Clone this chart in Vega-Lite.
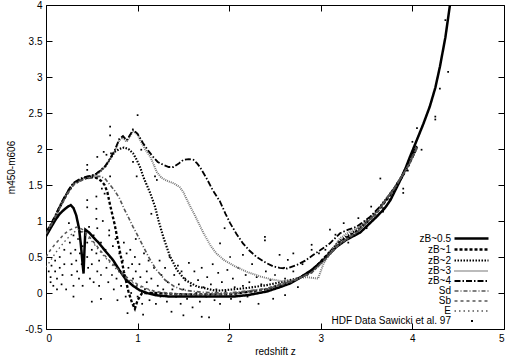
{
"$schema":"https://vega.github.io/schema/vega-lite/v6.json",
"width":458,"height":324,
"autosize":{"type":"none"},
"padding":{"left":46,"top":5,"right":2,"bottom":30},
"background":"white",
"config":{"view":{"stroke":"black","strokeWidth":1},
 "font":"Liberation Sans",
 "axis":{"grid":false,"domain":false,"tickColor":"black","tickSize":-6,"tickWidth":1,"labelFont":"Liberation Sans","labelFontSize":10,"labelColor":"black","titleFont":"Liberation Sans","titleFontSize":10,"titleFontWeight":"normal","titleColor":"black"},
 "legend":{"labelFont":"Liberation Sans","labelFontSize":10,"labelColor":"black"}},
"datasets":{
"curves":[
{"s":"zB~0.5","z":0,"c":0.79},{"s":"zB~0.5","z":0.05,"c":0.9},{"s":"zB~0.5","z":0.1,"c":1.01},{"s":"zB~0.5","z":0.15,"c":1.1},{"s":"zB~0.5","z":0.2,"c":1.16},{"s":"zB~0.5","z":0.24,"c":1.2},{"s":"zB~0.5","z":0.27,"c":1.22},{"s":"zB~0.5","z":0.3,"c":1.18},{"s":"zB~0.5","z":0.33,"c":1.08},{"s":"zB~0.5","z":0.36,"c":0.9},{"s":"zB~0.5","z":0.38,"c":0.68},{"s":"zB~0.5","z":0.4,"c":0.4},{"s":"zB~0.5","z":0.41,"c":0.27},{"s":"zB~0.5","z":0.42,"c":0.6},{"s":"zB~0.5","z":0.43,"c":0.88},{"s":"zB~0.5","z":0.47,"c":0.84},{"s":"zB~0.5","z":0.52,"c":0.77},{"s":"zB~0.5","z":0.58,"c":0.69},{"s":"zB~0.5","z":0.65,"c":0.58},{"s":"zB~0.5","z":0.73,"c":0.46},{"s":"zB~0.5","z":0.8,"c":0.32},{"s":"zB~0.5","z":0.87,"c":0.19},{"s":"zB~0.5","z":0.95,"c":0.1},{"s":"zB~0.5","z":1.02,"c":0.04},{"s":"zB~0.5","z":1.1,"c":0.0},{"s":"zB~0.5","z":1.2,"c":-0.03},{"s":"zB~0.5","z":1.35,"c":-0.05},{"s":"zB~0.5","z":1.5,"c":-0.05},{"s":"zB~0.5","z":1.8,"c":-0.05},{"s":"zB~0.5","z":2.04,"c":-0.05},{"s":"zB~0.5","z":2.2,"c":-0.03},{"s":"zB~0.5","z":2.41,"c":0.02},{"s":"zB~0.5","z":2.55,"c":0.08},{"s":"zB~0.5","z":2.66,"c":0.13},{"s":"zB~0.5","z":2.77,"c":0.21},{"s":"zB~0.5","z":2.9,"c":0.32},{"s":"zB~0.5","z":3.03,"c":0.46},{"s":"zB~0.5","z":3.17,"c":0.64},{"s":"zB~0.5","z":3.28,"c":0.74},{"s":"zB~0.5","z":3.43,"c":0.84},{"s":"zB~0.5","z":3.52,"c":0.95},{"s":"zB~0.5","z":3.61,"c":1.06},{"s":"zB~0.5","z":3.7,"c":1.18},{"s":"zB~0.5","z":3.76,"c":1.29},{"s":"zB~0.5","z":3.83,"c":1.47},{"s":"zB~0.5","z":3.9,"c":1.65},{"s":"zB~0.5","z":3.97,"c":1.88},{"s":"zB~0.5","z":4.05,"c":2.13},{"s":"zB~0.5","z":4.12,"c":2.35},{"s":"zB~0.5","z":4.19,"c":2.59},{"s":"zB~0.5","z":4.25,"c":2.85},{"s":"zB~0.5","z":4.3,"c":3.14},{"s":"zB~0.5","z":4.36,"c":3.55},{"s":"zB~0.5","z":4.41,"c":4.0},
{"s":"zB~1","z":0,"c":0.82},{"s":"zB~1","z":0.05,"c":0.93},{"s":"zB~1","z":0.1,"c":1.05},{"s":"zB~1","z":0.15,"c":1.19},{"s":"zB~1","z":0.2,"c":1.31},{"s":"zB~1","z":0.25,"c":1.42},{"s":"zB~1","z":0.3,"c":1.51},{"s":"zB~1","z":0.35,"c":1.55},{"s":"zB~1","z":0.4,"c":1.58},{"s":"zB~1","z":0.45,"c":1.6},{"s":"zB~1","z":0.5,"c":1.61},{"s":"zB~1","z":0.55,"c":1.6},{"s":"zB~1","z":0.6,"c":1.56},{"s":"zB~1","z":0.64,"c":1.5},{"s":"zB~1","z":0.67,"c":1.4},{"s":"zB~1","z":0.7,"c":1.22},{"s":"zB~1","z":0.75,"c":0.95},{"s":"zB~1","z":0.8,"c":0.62},{"s":"zB~1","z":0.85,"c":0.3},{"s":"zB~1","z":0.9,"c":0.02},{"s":"zB~1","z":0.94,"c":-0.14},{"s":"zB~1","z":0.97,"c":-0.22},{"s":"zB~1","z":1.0,"c":-0.1},{"s":"zB~1","z":1.05,"c":0.0},{"s":"zB~1","z":1.2,"c":0.0},{"s":"zB~1","z":1.5,"c":-0.02},{"s":"zB~1","z":2.0,"c":-0.02},{"s":"zB~1","z":2.4,"c":0.05},{"s":"zB~1","z":2.7,"c":0.17},{"s":"zB~1","z":2.9,"c":0.3},{"s":"zB~1","z":3.03,"c":0.48},{"s":"zB~1","z":3.2,"c":0.7},{"s":"zB~1","z":3.4,"c":0.86},{"s":"zB~1","z":3.6,"c":1.1},{"s":"zB~1","z":3.8,"c":1.43},{"s":"zB~1","z":3.95,"c":1.75},{"s":"zB~1","z":4.05,"c":2.03},
{"s":"zB~2","z":0,"c":0.83},{"s":"zB~2","z":0.05,"c":0.94},{"s":"zB~2","z":0.1,"c":1.06},{"s":"zB~2","z":0.15,"c":1.2},{"s":"zB~2","z":0.2,"c":1.32},{"s":"zB~2","z":0.25,"c":1.43},{"s":"zB~2","z":0.3,"c":1.52},{"s":"zB~2","z":0.35,"c":1.56},{"s":"zB~2","z":0.4,"c":1.59},{"s":"zB~2","z":0.45,"c":1.61},{"s":"zB~2","z":0.5,"c":1.62},{"s":"zB~2","z":0.55,"c":1.65},{"s":"zB~2","z":0.6,"c":1.7},{"s":"zB~2","z":0.65,"c":1.76},{"s":"zB~2","z":0.7,"c":1.86},{"s":"zB~2","z":0.75,"c":1.96},{"s":"zB~2","z":0.8,"c":2.0},{"s":"zB~2","z":0.85,"c":2.02},{"s":"zB~2","z":0.9,"c":2.0},{"s":"zB~2","z":0.95,"c":1.94},{"s":"zB~2","z":0.99,"c":1.85},{"s":"zB~2","z":1.03,"c":1.74},{"s":"zB~2","z":1.06,"c":1.62},{"s":"zB~2","z":1.1,"c":1.5},{"s":"zB~2","z":1.14,"c":1.38},{"s":"zB~2","z":1.19,"c":1.2},{"s":"zB~2","z":1.23,"c":1.0},{"s":"zB~2","z":1.28,"c":0.78},{"s":"zB~2","z":1.35,"c":0.52},{"s":"zB~2","z":1.43,"c":0.32},{"s":"zB~2","z":1.52,"c":0.18},{"s":"zB~2","z":1.65,"c":0.09},{"s":"zB~2","z":1.86,"c":0.03},{"s":"zB~2","z":2.04,"c":0.05},{"s":"zB~2","z":2.2,"c":0.07},{"s":"zB~2","z":2.41,"c":0.11},{"s":"zB~2","z":2.6,"c":0.16},{"s":"zB~2","z":2.77,"c":0.21},{"s":"zB~2","z":2.9,"c":0.3},{"s":"zB~2","z":3.03,"c":0.47},{"s":"zB~2","z":3.2,"c":0.72},{"s":"zB~2","z":3.4,"c":0.88},{"s":"zB~2","z":3.6,"c":1.12},{"s":"zB~2","z":3.8,"c":1.45},{"s":"zB~2","z":3.95,"c":1.76},{"s":"zB~2","z":4.05,"c":2.02},
{"s":"zB~3","z":0,"c":0.83},{"s":"zB~3","z":0.05,"c":0.94},{"s":"zB~3","z":0.1,"c":1.06},{"s":"zB~3","z":0.15,"c":1.2},{"s":"zB~3","z":0.2,"c":1.32},{"s":"zB~3","z":0.25,"c":1.43},{"s":"zB~3","z":0.3,"c":1.52},{"s":"zB~3","z":0.35,"c":1.56},{"s":"zB~3","z":0.4,"c":1.59},{"s":"zB~3","z":0.45,"c":1.61},{"s":"zB~3","z":0.5,"c":1.62},{"s":"zB~3","z":0.55,"c":1.65},{"s":"zB~3","z":0.6,"c":1.7},{"s":"zB~3","z":0.65,"c":1.76},{"s":"zB~3","z":0.7,"c":1.86},{"s":"zB~3","z":0.75,"c":1.97},{"s":"zB~3","z":0.8,"c":2.12},{"s":"zB~3","z":0.84,"c":2.16},{"s":"zB~3","z":0.88,"c":2.1},{"s":"zB~3","z":0.92,"c":2.18},{"s":"zB~3","z":0.95,"c":2.25},{"s":"zB~3","z":1.0,"c":2.2},{"s":"zB~3","z":1.03,"c":2.12},{"s":"zB~3","z":1.08,"c":2.0},{"s":"zB~3","z":1.14,"c":1.89},{"s":"zB~3","z":1.21,"c":1.68},{"s":"zB~3","z":1.26,"c":1.6},{"s":"zB~3","z":1.32,"c":1.56},{"s":"zB~3","z":1.4,"c":1.52},{"s":"zB~3","z":1.46,"c":1.47},{"s":"zB~3","z":1.5,"c":1.4},{"s":"zB~3","z":1.54,"c":1.29},{"s":"zB~3","z":1.6,"c":1.14},{"s":"zB~3","z":1.64,"c":1.04},{"s":"zB~3","z":1.72,"c":0.83},{"s":"zB~3","z":1.8,"c":0.65},{"s":"zB~3","z":1.86,"c":0.55},{"s":"zB~3","z":1.95,"c":0.45},{"s":"zB~3","z":2.08,"c":0.36},{"s":"zB~3","z":2.2,"c":0.29},{"s":"zB~3","z":2.34,"c":0.23},{"s":"zB~3","z":2.46,"c":0.19},{"s":"zB~3","z":2.59,"c":0.16},{"s":"zB~3","z":2.7,"c":0.18},{"s":"zB~3","z":2.77,"c":0.21},{"s":"zB~3","z":2.85,"c":0.22},{"s":"zB~3","z":2.97,"c":0.2},{"s":"zB~3","z":3.03,"c":0.41},{"s":"zB~3","z":3.1,"c":0.55},{"s":"zB~3","z":3.21,"c":0.76},{"s":"zB~3","z":3.3,"c":0.84},{"s":"zB~3","z":3.4,"c":0.9},{"s":"zB~3","z":3.6,"c":1.12},{"s":"zB~3","z":3.8,"c":1.45},{"s":"zB~3","z":3.95,"c":1.76},{"s":"zB~3","z":4.05,"c":2.02},
{"s":"zB~4","z":0,"c":0.84},{"s":"zB~4","z":0.05,"c":0.95},{"s":"zB~4","z":0.1,"c":1.07},{"s":"zB~4","z":0.15,"c":1.21},{"s":"zB~4","z":0.2,"c":1.33},{"s":"zB~4","z":0.25,"c":1.44},{"s":"zB~4","z":0.3,"c":1.53},{"s":"zB~4","z":0.35,"c":1.57},{"s":"zB~4","z":0.4,"c":1.6},{"s":"zB~4","z":0.45,"c":1.62},{"s":"zB~4","z":0.5,"c":1.63},{"s":"zB~4","z":0.55,"c":1.66},{"s":"zB~4","z":0.6,"c":1.71},{"s":"zB~4","z":0.65,"c":1.77},{"s":"zB~4","z":0.7,"c":1.87},{"s":"zB~4","z":0.75,"c":1.98},{"s":"zB~4","z":0.8,"c":2.14},{"s":"zB~4","z":0.84,"c":2.18},{"s":"zB~4","z":0.88,"c":2.12},{"s":"zB~4","z":0.92,"c":2.2},{"s":"zB~4","z":0.95,"c":2.27},{"s":"zB~4","z":1.0,"c":2.21},{"s":"zB~4","z":1.06,"c":2.08},{"s":"zB~4","z":1.12,"c":1.97},{"s":"zB~4","z":1.17,"c":1.89},{"s":"zB~4","z":1.22,"c":1.82},{"s":"zB~4","z":1.28,"c":1.78},{"s":"zB~4","z":1.34,"c":1.75},{"s":"zB~4","z":1.39,"c":1.75},{"s":"zB~4","z":1.45,"c":1.8},{"s":"zB~4","z":1.5,"c":1.85},{"s":"zB~4","z":1.56,"c":1.86},{"s":"zB~4","z":1.61,"c":1.85},{"s":"zB~4","z":1.65,"c":1.8},{"s":"zB~4","z":1.68,"c":1.75},{"s":"zB~4","z":1.75,"c":1.6},{"s":"zB~4","z":1.82,"c":1.43},{"s":"zB~4","z":1.9,"c":1.27},{"s":"zB~4","z":1.96,"c":1.1},{"s":"zB~4","z":2.01,"c":0.97},{"s":"zB~4","z":2.08,"c":0.82},{"s":"zB~4","z":2.15,"c":0.69},{"s":"zB~4","z":2.22,"c":0.59},{"s":"zB~4","z":2.3,"c":0.5},{"s":"zB~4","z":2.4,"c":0.42},{"s":"zB~4","z":2.48,"c":0.37},{"s":"zB~4","z":2.55,"c":0.35},{"s":"zB~4","z":2.63,"c":0.34},{"s":"zB~4","z":2.74,"c":0.39},{"s":"zB~4","z":2.83,"c":0.45},{"s":"zB~4","z":2.92,"c":0.53},{"s":"zB~4","z":3.0,"c":0.6},{"s":"zB~4","z":3.1,"c":0.69},{"s":"zB~4","z":3.21,"c":0.83},{"s":"zB~4","z":3.3,"c":0.88},{"s":"zB~4","z":3.39,"c":0.92},{"s":"zB~4","z":3.54,"c":1.06},{"s":"zB~4","z":3.7,"c":1.27},{"s":"zB~4","z":3.86,"c":1.57},{"s":"zB~4","z":3.95,"c":1.8},{"s":"zB~4","z":4.05,"c":2.05},
{"s":"Sd","z":0,"c":0.82},{"s":"Sd","z":0.05,"c":0.93},{"s":"Sd","z":0.1,"c":1.05},{"s":"Sd","z":0.15,"c":1.18},{"s":"Sd","z":0.2,"c":1.3},{"s":"Sd","z":0.25,"c":1.41},{"s":"Sd","z":0.3,"c":1.5},{"s":"Sd","z":0.35,"c":1.54},{"s":"Sd","z":0.4,"c":1.57},{"s":"Sd","z":0.45,"c":1.59},{"s":"Sd","z":0.5,"c":1.6},{"s":"Sd","z":0.55,"c":1.62},{"s":"Sd","z":0.6,"c":1.62},{"s":"Sd","z":0.65,"c":1.58},{"s":"Sd","z":0.7,"c":1.5},{"s":"Sd","z":0.75,"c":1.42},{"s":"Sd","z":0.8,"c":1.32},{"s":"Sd","z":0.86,"c":1.15},{"s":"Sd","z":0.9,"c":1.05},{"s":"Sd","z":0.95,"c":0.92},{"s":"Sd","z":1.0,"c":0.8},{"s":"Sd","z":1.06,"c":0.65},{"s":"Sd","z":1.12,"c":0.5},{"s":"Sd","z":1.2,"c":0.33},{"s":"Sd","z":1.3,"c":0.18},{"s":"Sd","z":1.4,"c":0.09},{"s":"Sd","z":1.5,"c":0.04},{"s":"Sd","z":1.7,"c":0.01},{"s":"Sd","z":2.0,"c":0.0},{"s":"Sd","z":2.4,"c":0.06},{"s":"Sd","z":2.7,"c":0.17},{"s":"Sd","z":2.9,"c":0.28},{"s":"Sd","z":3.05,"c":0.47},{"s":"Sd","z":3.2,"c":0.68},{"s":"Sd","z":3.4,"c":0.85},{"s":"Sd","z":3.6,"c":1.1},{"s":"Sd","z":3.8,"c":1.45},{"s":"Sd","z":3.95,"c":1.76},{"s":"Sd","z":4.05,"c":2.02},
{"s":"Sb","z":0,"c":0.5},{"s":"Sb","z":0.05,"c":0.6},{"s":"Sb","z":0.1,"c":0.68},{"s":"Sb","z":0.15,"c":0.75},{"s":"Sb","z":0.2,"c":0.82},{"s":"Sb","z":0.25,"c":0.87},{"s":"Sb","z":0.3,"c":0.9},{"s":"Sb","z":0.35,"c":0.92},{"s":"Sb","z":0.4,"c":0.88},{"s":"Sb","z":0.5,"c":0.74},{"s":"Sb","z":0.6,"c":0.58},{"s":"Sb","z":0.7,"c":0.44},{"s":"Sb","z":0.8,"c":0.31},{"s":"Sb","z":0.9,"c":0.2},{"s":"Sb","z":1.0,"c":0.12},{"s":"Sb","z":1.1,"c":0.06},{"s":"Sb","z":1.2,"c":0.02},{"s":"Sb","z":1.4,"c":-0.01},{"s":"Sb","z":1.7,"c":-0.02},{"s":"Sb","z":2.0,"c":-0.01},{"s":"Sb","z":2.4,"c":0.05},{"s":"Sb","z":2.7,"c":0.17},{"s":"Sb","z":2.9,"c":0.29},{"s":"Sb","z":3.05,"c":0.47},{"s":"Sb","z":3.2,"c":0.68},{"s":"Sb","z":3.4,"c":0.85},{"s":"Sb","z":3.6,"c":1.1},{"s":"Sb","z":3.8,"c":1.45},{"s":"Sb","z":3.95,"c":1.76},{"s":"Sb","z":4.05,"c":2.02},
{"s":"E","z":0,"c":0.36},{"s":"E","z":0.05,"c":0.45},{"s":"E","z":0.1,"c":0.55},{"s":"E","z":0.15,"c":0.63},{"s":"E","z":0.2,"c":0.71},{"s":"E","z":0.25,"c":0.78},{"s":"E","z":0.3,"c":0.84},{"s":"E","z":0.35,"c":0.88},{"s":"E","z":0.4,"c":0.85},{"s":"E","z":0.5,"c":0.72},{"s":"E","z":0.6,"c":0.56},{"s":"E","z":0.7,"c":0.42},{"s":"E","z":0.8,"c":0.29},{"s":"E","z":0.9,"c":0.18},{"s":"E","z":1.0,"c":0.1},{"s":"E","z":1.1,"c":0.05},{"s":"E","z":1.2,"c":0.01},{"s":"E","z":1.4,"c":-0.02},{"s":"E","z":1.7,"c":-0.03},{"s":"E","z":2.0,"c":-0.02},{"s":"E","z":2.4,"c":0.04},{"s":"E","z":2.7,"c":0.16},{"s":"E","z":2.9,"c":0.28},{"s":"E","z":3.05,"c":0.46},{"s":"E","z":3.2,"c":0.67},{"s":"E","z":3.4,"c":0.84},{"s":"E","z":3.6,"c":1.09},{"s":"E","z":3.8,"c":1.44},{"s":"E","z":3.95,"c":1.75},{"s":"E","z":4.05,"c":2.0}
],
"hdf":[
{"z":0.05,"c":0.15},{"z":0.05,"c":0.22},{"z":0.08,"c":0.1},{"z":0.1,"c":0.3},{"z":0.1,"c":0.45},{"z":0.12,"c":0.2},{"z":0.12,"c":0.05},{"z":0.15,"c":0.35},{"z":0.15,"c":0.5},{"z":0.17,"c":0.12},{"z":0.18,"c":0.25},{"z":0.2,"c":0.4},{"z":0.2,"c":0.6},{"z":0.22,"c":0.05},{"z":0.06,"c":0.38},{"z":0.03,"c":0.3},
{"z":0.25,"c":0.97},{"z":0.26,"c":0.7},{"z":0.27,"c":0.55},{"z":0.28,"c":0.4},{"z":0.28,"c":0.25},{"z":0.3,"c":0.8},{"z":0.3,"c":0.1},{"z":0.32,"c":0.6},{"z":0.33,"c":0.45},{"z":0.34,"c":0.3},{"z":0.35,"c":0.75},{"z":0.36,"c":0.2},{"z":0.37,"c":0.55},{"z":0.38,"c":0.85},{"z":0.39,"c":0.4},{"z":0.4,"c":0.65},{"z":0.4,"c":0.1},{"z":0.3,"c":-0.05},{"z":0.35,"c":0.95},
{"z":0.45,"c":1.78},{"z":0.45,"c":1.71},{"z":0.45,"c":1.29},{"z":0.45,"c":1.19},{"z":0.47,"c":0.92},{"z":0.45,"c":0.7},{"z":0.45,"c":0.5},{"z":0.46,"c":0.35},{"z":0.48,"c":0.2},{"z":0.5,"c":0.6},{"z":0.5,"c":0.4},{"z":0.52,"c":0.8},{"z":0.52,"c":0.15},{"z":0.55,"c":1.34},{"z":0.55,"c":1.17},{"z":0.55,"c":1.03},{"z":0.56,"c":0.9},{"z":0.55,"c":0.55},{"z":0.56,"c":0.3},{"z":0.58,"c":0.45},{"z":0.58,"c":0.1},{"z":0.6,"c":0.7},{"z":0.6,"c":0.25},{"z":0.56,"c":1.89},{"z":0.6,"c":-0.08},{"z":0.5,"c":-0.12},
{"z":0.61,"c":1.45},{"z":0.62,"c":1.0},{"z":0.63,"c":1.96},{"z":0.64,"c":1.38},{"z":0.66,"c":1.92},{"z":0.69,"c":0.87},{"z":0.69,"c":0.8},{"z":0.7,"c":2.31},{"z":0.7,"c":2.19},{"z":0.7,"c":1.62},{"z":0.71,"c":1.94},{"z":0.65,"c":0.6},{"z":0.66,"c":0.35},{"z":0.68,"c":0.15},{"z":0.7,"c":0.5},{"z":0.72,"c":0.25},{"z":0.73,"c":0.65},{"z":0.74,"c":0.05},{"z":0.75,"c":0.4},{"z":0.76,"c":0.75},{"z":0.77,"c":0.2},{"z":0.78,"c":-0.1},{"z":0.8,"c":0.55},{"z":0.8,"c":0.3},
{"z":0.82,"c":0.1},{"z":0.84,"c":0.45},{"z":0.85,"c":0.7},{"z":0.86,"c":0.25},{"z":0.87,"c":-0.05},{"z":0.88,"c":0.55},{"z":0.89,"c":-0.28},{"z":0.9,"c":0.35},{"z":0.9,"c":0.15},{"z":0.92,"c":0.6},{"z":0.93,"c":0.0},{"z":0.94,"c":0.4},{"z":0.95,"c":1.82},{"z":0.95,"c":0.2},{"z":0.96,"c":-0.15},{"z":0.97,"c":0.5},{"z":0.98,"c":0.3},{"z":0.99,"c":1.62},{"z":0.99,"c":0.1},{"z":1.0,"c":2.47},{"z":1.0,"c":-0.05},{"z":0.98,"c":0.75},
{"z":1.02,"c":0.4},{"z":1.03,"c":0.22},{"z":1.04,"c":1.99},{"z":1.05,"c":-0.15},{"z":1.06,"c":-0.3},{"z":1.07,"c":0.55},{"z":1.08,"c":0.05},{"z":1.1,"c":0.3},{"z":1.1,"c":0.15},{"z":1.12,"c":0.45},{"z":1.13,"c":-0.1},{"z":1.15,"c":1.1},{"z":1.15,"c":0.2},{"z":1.16,"c":0.0},{"z":1.18,"c":0.35},{"z":1.19,"c":1.62},{"z":1.2,"c":-0.15},{"z":1.21,"c":1.57},{"z":1.22,"c":0.1},{"z":1.24,"c":0.45},{"z":1.25,"c":-0.05},{"z":1.26,"c":0.25},{"z":1.28,"c":0.05},{"z":1.3,"c":0.35},
{"z":1.32,"c":-0.12},{"z":1.33,"c":0.15},{"z":1.35,"c":0.5},{"z":1.37,"c":-0.26},{"z":1.38,"c":0.05},{"z":1.4,"c":0.25},{"z":1.42,"c":-0.05},{"z":1.44,"c":0.38},{"z":1.45,"c":0.12},{"z":1.47,"c":-0.15},{"z":1.48,"c":0.3},{"z":1.5,"c":-0.31},{"z":1.5,"c":0.05},{"z":1.52,"c":0.2},{"z":1.54,"c":-0.08},{"z":1.56,"c":0.42},{"z":1.58,"c":0.1},{"z":1.6,"c":-0.2},
{"z":1.62,"c":0.3},{"z":1.64,"c":0.0},{"z":1.66,"c":0.18},{"z":1.68,"c":-0.12},{"z":1.7,"c":-0.33},{"z":1.7,"c":0.35},{"z":1.72,"c":0.08},{"z":1.75,"c":-0.05},{"z":1.76,"c":0.22},{"z":1.78,"c":-0.34},{"z":1.8,"c":0.12},{"z":1.82,"c":0.4},{"z":1.84,"c":-0.1},{"z":1.86,"c":0.05},{"z":1.88,"c":0.28},{"z":1.9,"c":0.69},{"z":1.9,"c":-0.15},{"z":1.92,"c":0.15},{"z":1.95,"c":0.9},{"z":1.96,"c":0.02},{"z":1.98,"c":0.32},
{"z":2.01,"c":0.5},{"z":2.02,"c":-0.08},{"z":2.04,"c":0.2},{"z":2.06,"c":0.08},{"z":2.1,"c":0.35},{"z":2.12,"c":-0.12},{"z":2.15,"c":0.53},{"z":2.15,"c":0.1},{"z":2.18,"c":0.25},{"z":2.2,"c":-0.05},{"z":2.22,"c":0.15},{"z":2.25,"c":0.4},{"z":2.28,"c":0.02},{"z":2.3,"c":0.22},{"z":2.32,"c":-0.15},{"z":2.35,"c":0.12},{"z":2.39,"c":0.78},{"z":2.39,"c":0.73},{"z":2.4,"c":0.3},{"z":2.42,"c":0.05},{"z":2.45,"c":0.18},{"z":2.48,"c":-0.08},
{"z":2.5,"c":0.25},{"z":2.55,"c":0.53},{"z":2.56,"c":0.12},{"z":2.6,"c":0.35},{"z":2.61,"c":0.2},{"z":2.61,"c":-0.03},{"z":2.64,"c":0.46},{"z":2.68,"c":0.15},{"z":2.7,"c":0.55},{"z":2.7,"c":0.3},{"z":2.75,"c":0.08},{"z":2.8,"c":0.4},{"z":2.85,"c":0.25},{"z":2.9,"c":0.67},{"z":2.9,"c":0.6},{"z":2.95,"c":0.35},{"z":2.98,"c":0.55},
{"z":3.05,"c":0.6},{"z":3.1,"c":0.88},{"z":3.16,"c":0.81},{"z":3.25,"c":0.97},{"z":3.3,"c":0.7},{"z":3.41,"c":1.04},{"z":3.5,"c":0.9},{"z":3.55,"c":1.2},{"z":3.65,"c":1.59},{"z":3.68,"c":1.18},{"z":3.68,"c":1.13},{"z":3.75,"c":1.3},{"z":3.9,"c":1.45},{"z":3.9,"c":1.39},{"z":3.95,"c":1.7},{"z":4.0,"c":2.1},{"z":4.05,"c":2.29},{"z":4.1,"c":1.99},{"z":4.25,"c":2.45},{"z":4.25,"c":2.41},{"z":4.3,"c":2.84},{"z":4.39,"c":3.07},{"z":4.36,"c":3.79}
]},
"layer":[
{"data":{"name":"hdf"},
 "mark":{"type":"point","filled":true,"size":3,"opacity":1,"color":"black","clip":true},
 "encoding":{
  "x":{"field":"z","type":"quantitative","scale":{"domain":[0,5],"nice":false,"zero":false},
    "axis":{"orient":"bottom","values":[0,1,2,3,4,5],"title":"redshift z","labelPadding":10,"titlePadding":3}},
  "y":{"field":"c","type":"quantitative","scale":{"domain":[-0.5,4],"nice":false,"zero":false},
    "axis":{"orient":"left","values":[-0.5,0,0.5,1,1.5,2,2.5,3,3.5,4],"title":"m450-m606","labelPadding":10,"titlePadding":8,
      "labelExpr":"datum.value < 0 ? '-' + format(-datum.value, '~g') : format(datum.value, '~g')"}},
  "shape":{"datum":"HDF Data Sawicki et al. 97","type":"nominal","scale":{"range":["square"]},
    "legend":{"orient":"none","legendX":421,"legendY":311,"title":null,"labelAlign":"right","labelOffset":-26,"symbolSize":4,"symbolFillColor":"black","symbolStrokeColor":"black","symbolStrokeWidth":0,"padding":0}}
 }},
{"data":{"name":"curves"},
 "mark":{"type":"line","clip":true},
 "encoding":{
  "x":{"field":"z","type":"quantitative","axis":{"orient":"top","values":[0,1,2,3,4,5],"labels":false,"title":null}},
  "y":{"field":"c","type":"quantitative","axis":{"orient":"right","values":[-0.5,0,0.5,1,1.5,2,2.5,3,3.5,4],"labels":false,"title":null}},
  "color":{"field":"s","type":"nominal","scale":{"domain":["zB~0.5","zB~1","zB~2","zB~3","zB~4","Sd","Sb","E"],"range":["black","black","black","#777777","black","#555555","#555555","#555555"]},
    "legend":{"orient":"none","legendX":420,"legendY":228,"title":null,"labelAlign":"right","labelOffset":-26,"symbolType":"M-4.25,0H4.25","symbolSize":64,"rowPadding":0,"padding":0}},
  "strokeDash":{"field":"s","type":"nominal","scale":{"domain":["zB~0.5","zB~1","zB~2","zB~3","zB~4","Sd","Sb","E"],"range":[[1,0],[3,2],[1.5,1.5],[1,1],[6,2,1.5,2],[4,2,1,2],[3,3],[1.5,3]]},
    "legend":{"orient":"none","legendX":420,"legendY":228,"title":null,"labelAlign":"right","labelOffset":-26,"symbolType":"M-4.25,0H4.25","symbolSize":64,"rowPadding":0,"padding":0}},
  "strokeWidth":{"field":"s","type":"nominal","scale":{"domain":["zB~0.5","zB~1","zB~2","zB~3","zB~4","Sd","Sb","E"],"range":[2.5,1.3,1.3,1,1.3,1,1,1]},
    "legend":{"orient":"none","legendX":420,"legendY":228,"title":null,"labelAlign":"right","labelOffset":-26,"symbolType":"M-4.25,0H4.25","symbolSize":64,"rowPadding":0,"padding":0}}
 }}
],
"resolve":{"axis":{"x":"independent","y":"independent"}}
}
